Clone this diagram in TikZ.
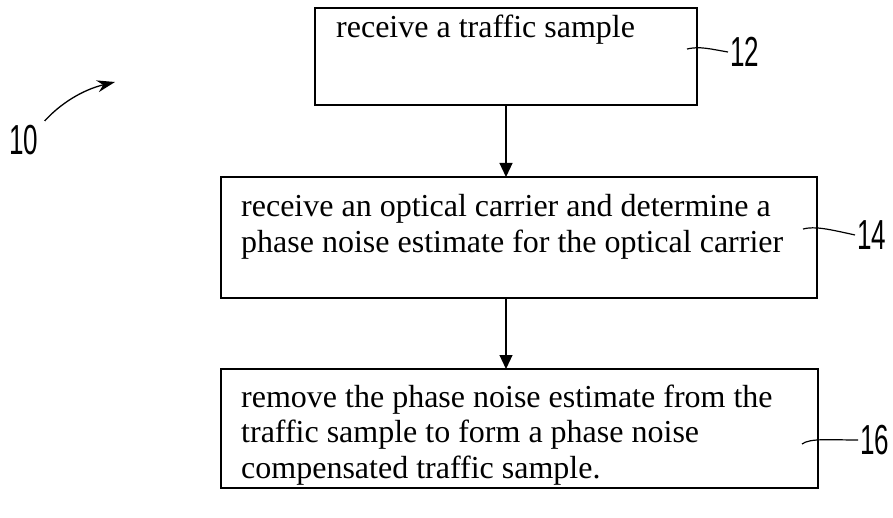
\documentclass[tikz,border=0pt]{standalone}
\usepackage{fontspec}
\setmainfont{Liberation Serif}
\newfontfamily\handfont[FakeStretch=0.62]{Liberation Sans}
\usetikzlibrary{arrows.meta}
\newcommand\boxlines[1]{\begin{tabular}[t]{@{}l@{}}#1\end{tabular}}
\tikzset{
  stepbox/.style={draw, line width=1.4pt},
  steptext/.style={anchor=base west, inner sep=0pt, font=\fontsize{32}{35.8}\selectfont},
  flow/.style={line width=1.2pt, -{Triangle[width=13pt,length=14pt]}},
  refnum/.style={inner sep=2pt, font=\handfont\fontsize{42}{42}\selectfont},
  lead/.style={line width=1.2pt},
}
\begin{document}
\begin{tikzpicture}[x=1pt,y=-1pt]
\useasboundingbox (0,0) rectangle (893,518);

% process boxes
\draw[stepbox] (315,8) rectangle (697,105);
\coordinate (b12top) at (506,8);
\coordinate (b12bot) at (506,105);
\draw[stepbox] (221,177) rectangle (817,298);
\coordinate (b14top) at (506,177);
\coordinate (b14bot) at (506,298);
\draw[stepbox] (221,369) rectangle (818,488);
\coordinate (b16top) at (506,369);

% box texts
\node[steptext] (s12) at (336,38) {\boxlines{receive a traffic sample}};
\node[steptext] (s14) at (241,217) {\boxlines{receive an optical carrier and determine a\\
  phase noise estimate for the optical carrier}};
\node[steptext] (s16) at (241,407) {\boxlines{remove the phase noise estimate from the\\
  traffic sample to form a phase noise\\
  compensated traffic sample.}};

% flow arrows
\draw[flow] (b12bot) -- (b14top);
\draw[flow] (b14bot) -- (b16top);

% reference numerals with lead lines
\node[refnum, anchor=west] (l12) at (728,52) {12};
\coordinate (t12) at (687,49);
\draw[lead] (t12) .. controls (700,46) and (710,49) .. (l12.west);

\node[refnum, anchor=west] (l14) at (855,235) {14};
\coordinate (t14) at (803,229);
\draw[lead] (t14) .. controls (815,226) and (828,229) .. (l14.west);

\node[refnum, anchor=west] (l16) at (858,440) {16};
\coordinate (t16) at (802,444);
\draw[lead] (t16) .. controls (810,438) and (830,440) .. (l16.west);

\node[refnum] (l10) at (24,140) {10};
\coordinate (a10) at (115,82);
\draw[line width=1.3pt, -{Stealth[width=12pt,length=18pt]}] (l10.north east) ++(4,-2)
  .. controls (60,104) and (82,90) .. (a10);
\end{tikzpicture}
\end{document}
